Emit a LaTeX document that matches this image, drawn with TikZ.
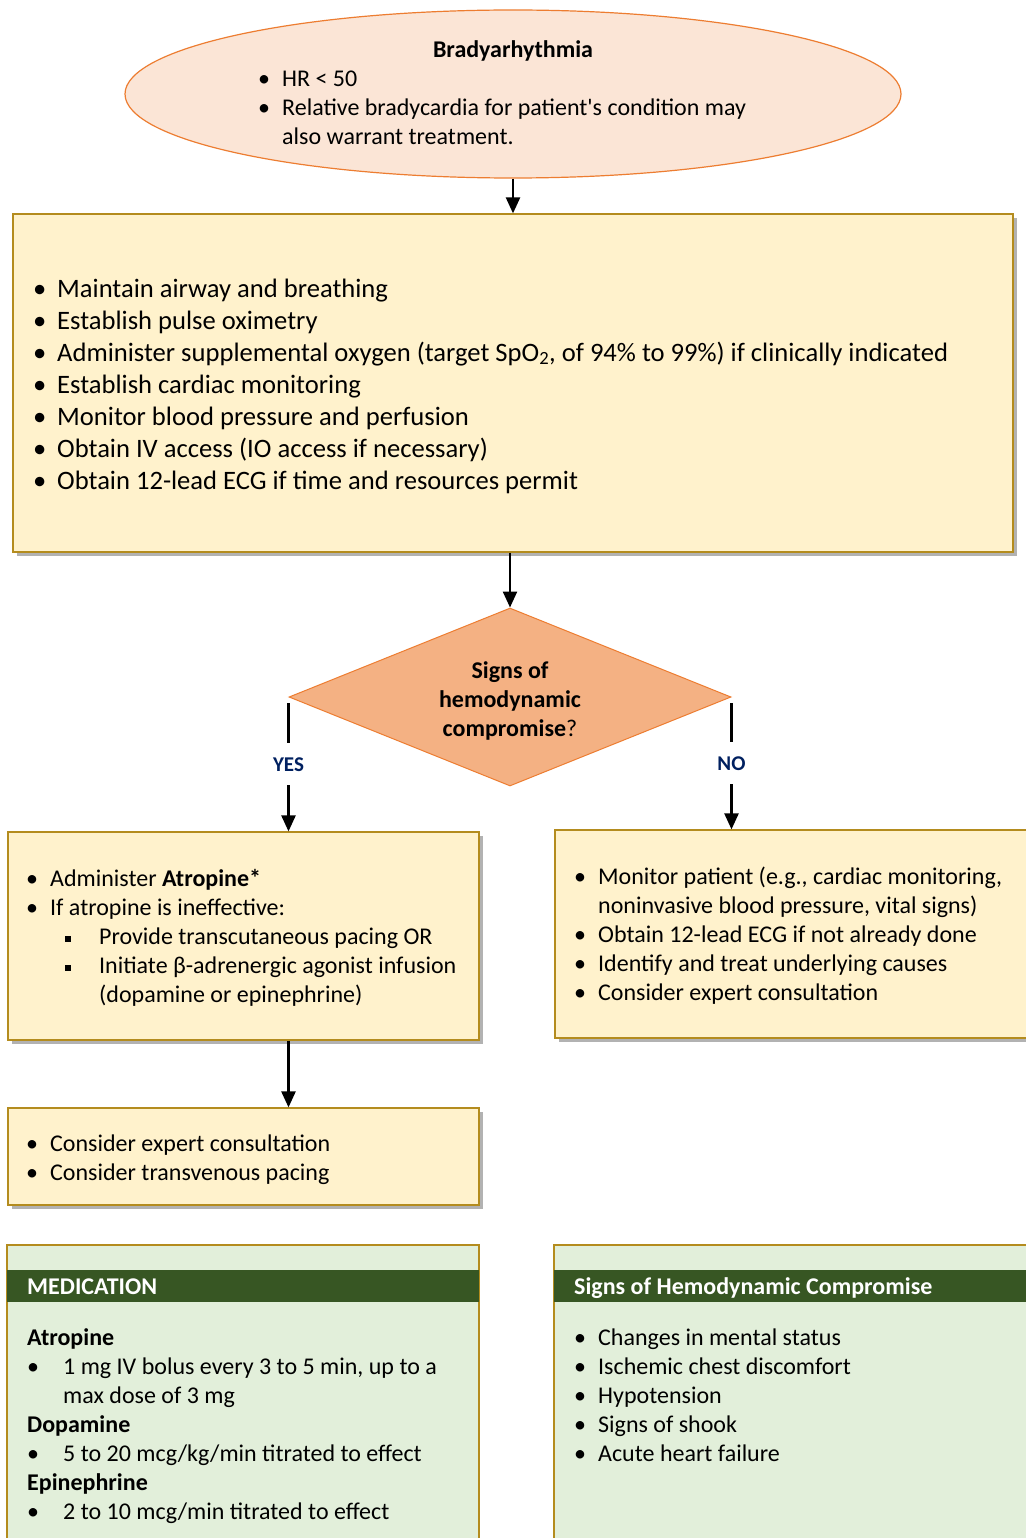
\documentclass[tikz,border=0pt]{standalone}
\usepackage{fontspec}
\setmainfont{Carlito}
\usetikzlibrary{shapes.geometric,arrows.meta,shadows}
\definecolor{peachcol}{RGB}{251,229,214}
\definecolor{orangecol}{RGB}{237,125,49}
\definecolor{diamcol}{RGB}{244,177,131}
\definecolor{yellowcol}{RGB}{255,242,204}
\definecolor{goldcol}{RGB}{180,140,30}
\definecolor{greencol}{RGB}{226,239,218}
\definecolor{darkgreencol}{RGB}{55,86,35}
\definecolor{navycol}{RGB}{0,32,96}
\newcommand\bul[1]{\makebox[24pt][l]{\textbullet}#1}
\newcommand\sbul[1]{\hspace*{39pt}\makebox[34pt][l]{\rule[2.5pt]{6pt}{6pt}}#1}
\newcommand\mbul[1]{\makebox[36pt][l]{\textbullet}#1}
\tikzset{
  ell/.style={ellipse,draw=orangecol,fill=peachcol,line width=1.2pt,inner sep=0},
  ybox/.style={rectangle,draw=goldcol,fill=yellowcol,line width=1.2pt,inner sep=0,
    drop shadow={shadow xshift=4pt,shadow yshift=-4pt,opacity=0.3,fill=black}},
  gbox/.style={rectangle,draw=goldcol,fill=greencol,line width=1.2pt,inner sep=0},
  hbar/.style={rectangle,fill=darkgreencol,inner sep=0},
  dec/.style={diamond,aspect=2.5,draw=orangecol,fill=diamcol,line width=1pt,inner sep=0,
    align=center,font={\fontsize{24}{29}\selectfont\bfseries}},
  % multi-line texts: anchored at the baseline of their last line
  txt/.style={font=\fontsize{24}{29}\selectfont,align=left,anchor=base west,inner sep=0},
  bigtxt/.style={font=\fontsize{26.6}{32}\selectfont,align=left,anchor=base west,inner sep=0},
  headtxt/.style={font={\fontsize{24}{29}\selectfont\bfseries},text=white,anchor=base west,inner sep=0},
  answer/.style={font={\fontsize{21}{25}\selectfont\bfseries},text=navycol,fill=white,
    minimum height=42pt,minimum width=44pt,inner sep=0},
  flow/.style={line width=2.4pt,-{Triangle[length=16pt,width=14pt]}},
}
\begin{document}
\begin{tikzpicture}[x=1pt,y=-1pt]
  \useasboundingbox[fill=white] (0,0) rectangle (1025,1538);

  % boxes
  \node[ell,minimum width=776pt,minimum height=168pt] (start) at (513,94) {};
  \node[ybox,minimum width=1000pt,minimum height=338pt] (prep) at (513,383) {};
  \node[dec,minimum width=442pt,minimum height=178pt] (check) at (510,697)
    {\rule{0pt}{24pt}Signs of\\hemodynamic\\compromise{\normalfont ?}};
  \node[ybox,minimum width=471pt,minimum height=208pt] (yesbox) at (243.5,936) {};
  \node[ybox,minimum width=490pt,minimum height=208pt] (nobox) at (800,934) {};
  \node[ybox,minimum width=471pt,minimum height=97pt] (expert) at (243.5,1156.5) {};
  \node[gbox,minimum width=472pt,minimum height=315pt] (meds) at (243,1402.5) {};
  \node[hbar,minimum width=472pt,minimum height=32pt] (medsbar) at (243,1286) {};
  \node[gbox,minimum width=491pt,minimum height=315pt] (signs) at (799.5,1402.5) {};
  \node[hbar,minimum width=491pt,minimum height=32pt] (signsbar) at (799.5,1286) {};

  % connectors
  \draw[flow] (start) -- (prep);
  \draw[flow] (check.north |- prep.south) -- (check.north);
  \draw[flow,shorten <=6pt] (check.west) -- node[answer] (yes) {YES} (check.west |- yesbox.north);
  \draw[flow,shorten <=6pt] (check.east) -- node[answer] (no) {NO} (check.east |- nobox.north);
  \draw[flow] (check.west |- yesbox.south) -- (check.west |- expert.north);

  % texts
  \node[font={\fontsize{24}{29}\selectfont\bfseries},anchor=base,inner sep=0] (starttitle)
    at (513,58) {Bradyarhythmia};
  \node[txt] (starttxt) at (258,145) {\bul{HR < 50}\\
    \bul{Relative bradycardia for patient\textquotesingle s condition may}\\
    \hspace*{24pt}also warrant treatment.};

  \node[bigtxt] (preptxt) at (33,489) {\bul{Maintain airway and breathing}\\
    \bul{Establish pulse oximetry}\\
    \bul{Administer supplemental oxygen (target SpO\textsubscript{2}, of 94\% to 99\%) if clinically indicated}\\
    \bul{Establish cardiac monitoring}\\
    \bul{Monitor blood pressure and perfusion}\\
    \bul{Obtain IV access (IO access if necessary)}\\
    \bul{Obtain 12-lead ECG if time and resources permit}};

  \node[txt] (yestxt) at (26,1002) {\bul{Administer \textbf{Atropine*}}\\
    \bul{If atropine is ineffective:}\\
    \sbul{Provide transcutaneous pacing OR}\\
    \sbul{Initiate β-adrenergic agonist infusion}\\
    \hspace*{73pt}(dopamine or epinephrine)};

  \node[txt] (notxt) at (574,1000) {\bul{Monitor patient (e.g., cardiac monitoring,}\\
    \hspace*{24pt}noninvasive blood pressure, vital signs)\\
    \bul{Obtain 12-lead ECG if not already done}\\
    \bul{Identify and treat underlying causes}\\
    \bul{Consider expert consultation}};

  \node[txt] (experttxt) at (26,1180) {\bul{Consider expert consultation}\\
    \bul{Consider transvenous pacing}};

  \node[headtxt] (medshead) at (27,1294) {MEDICATION};
  \node[txt] (medstxt) at (27,1519) {\textbf{Atropine}\\
    \mbul{1 mg IV bolus every 3 to 5 min, up to a}\\
    \hspace*{36pt}max dose of 3 mg\\
    \textbf{Dopamine}\\
    \mbul{5 to 20 mcg/kg/min titrated to effect}\\
    \textbf{Epinephrine}\\
    \mbul{2 to 10 mcg/min titrated to effect}};

  \node[headtxt] (signshead) at (574,1294) {Signs of Hemodynamic Compromise};
  \node[txt] (signstxt) at (574,1461) {\bul{Changes in mental status}\\
    \bul{Ischemic chest discomfort}\\
    \bul{Hypotension}\\
    \bul{Signs of shook}\\
    \bul{Acute heart failure}};
\end{tikzpicture}
\end{document}
